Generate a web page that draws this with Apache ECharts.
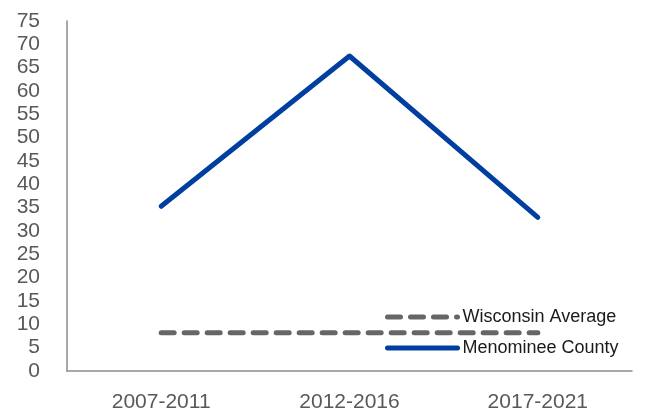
<!DOCTYPE html>
<html><head><meta charset="utf-8">
<script src="https://cdn.jsdelivr.net/npm/echarts@6/dist/echarts.min.js"></script>
<style>html,body{margin:0;padding:0;background:#fff}#c{width:649px;height:413px}</style>
</head><body><div id="c"></div>
<script>
const categories = ['2007-2011', '2012-2016', '2017-2021'];
const menominee = [35.3, 67.5, 32.9];
const wisconsin = [8.2, 8.2, 8.2];
const yMin = 0, yMax = 75, yStep = 5;

const chart = echarts.init(document.getElementById('c'));
const font = 'Liberation Sans, Arial, sans-serif';
const grayDash = { color: '#666666', width: 5, type: [13, 10], cap: 'round' };
const blueSolid = { color: '#003f9f', width: 5, type: 'solid', cap: 'round', join: 'round' };
chart.setOption({
  animation: false,
  grid: { left: 67, right: 17, top: 21, bottom: 42 },
  xAxis: {
    type: 'category', data: categories, boundaryGap: true,
    axisLine: { lineStyle: { color: '#8c8c8c', width: 1.5 } },
    axisTick: { show: false },
    axisLabel: { color: '#595959', fontFamily: font, fontSize: 21, margin: 21 }
  },
  yAxis: {
    type: 'value', min: yMin, max: yMax, interval: yStep,
    axisLine: { show: true, lineStyle: { color: '#8c8c8c', width: 1.5 } },
    axisTick: { show: false },
    splitLine: { show: false },
    axisLabel: { color: '#595959', fontFamily: font, fontSize: 21, margin: 27 }
  },
  legend: {
    orient: 'vertical', left: 385, top: 307, padding: 0,
    itemWidth: 70, itemHeight: 12, itemGap: 11,
    itemStyle: { opacity: 0 },
    textStyle: { color: '#1a1a1a', fontFamily: font, fontSize: 18, lineHeight: 20 },
    data: [
      { name: 'Wisconsin Average', lineStyle: grayDash, itemStyle: { opacity: 0 } },
      { name: 'Menominee County', lineStyle: blueSolid, itemStyle: { opacity: 0 } }
    ]
  },
  series: [
    {
      name: 'Wisconsin Average', type: 'line', data: wisconsin,
      symbol: 'none',
      lineStyle: grayDash,
      itemStyle: { color: '#666666' }
    },
    {
      name: 'Menominee County', type: 'line', data: menominee,
      symbol: 'none',
      lineStyle: blueSolid,
      itemStyle: { color: '#003f9f' }
    }
  ]
});
</script></body></html>
